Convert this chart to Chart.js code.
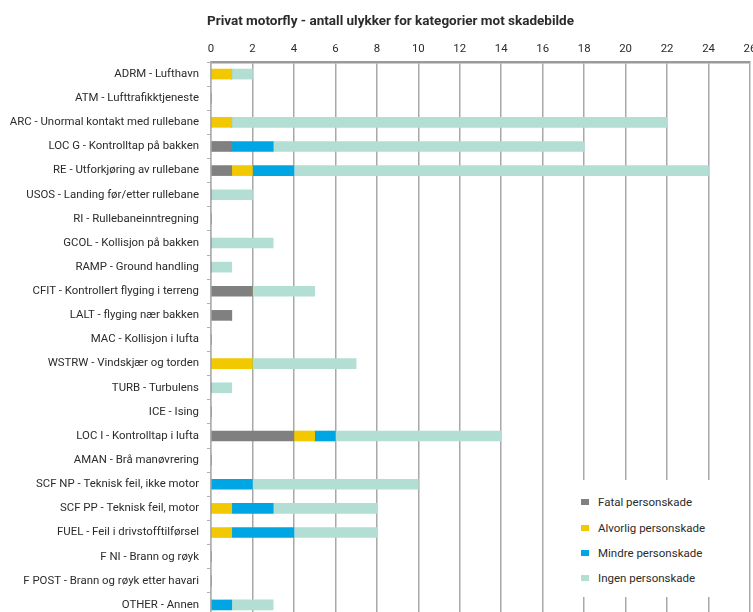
<!DOCTYPE html>
<html lang="no">
<head>
<meta charset="utf-8">
<script src="https://cdn.jsdelivr.net/npm/chart.js@4/dist/chart.umd.min.js"></script>
<style>
  html, body { margin: 0; padding: 0; background: #fff; overflow: hidden; }
  #wrap { position: relative; width: 753px; height: 620px; }
  #title {
    position: absolute; left: 207px; top: 12px;
    font: bold 13.5px Roboto, sans-serif; color: #2b2b2b;
    white-space: nowrap;
  }
  #legend {
    position: absolute; left: 548px; top: 480px; width: 198px; height: 117px;
    background: #fff;
  }
  .item { position: absolute; left: 33px; height: 14px; font: 11.5px Roboto, sans-serif; color: #2b2b2b; white-space: nowrap; }
  .item span.box { position: absolute; left: 0; top: 4px; width: 8px; height: 6px; }
  .item span.txt { position: absolute; left: 17px; top: 0; line-height: 14px; }
</style>
</head>
<body>
<div id="wrap">
  <canvas id="c" width="753" height="620"></canvas>
  <div id="title">Privat motorfly - antall ulykker for kategorier mot skadebilde</div>
  <div id="legend"></div>
</div>
<script>
const categories = [
  'ADRM - Lufthavn',
  'ATM - Lufttrafikktjeneste',
  'ARC - Unormal kontakt med rullebane',
  'LOC G - Kontrolltap på bakken',
  'RE - Utforkjøring av rullebane',
  'USOS - Landing før/etter rullebane',
  'RI - Rullebaneinntregning',
  'GCOL - Kollisjon på bakken',
  'RAMP - Ground handling',
  'CFIT - Kontrollert flyging i terreng',
  'LALT - flyging nær bakken',
  'MAC - Kollisjon i lufta',
  'WSTRW - Vindskjær og torden',
  'TURB - Turbulens',
  'ICE - Ising',
  'LOC I - Kontrolltap i lufta',
  'AMAN - Brå manøvrering',
  'SCF NP - Teknisk feil, ikke motor',
  'SCF PP - Teknisk feil, motor',
  'FUEL - Feil i drivstofftilførsel',
  'F NI - Brann og røyk',
  'F POST - Brann og røyk etter havari',
  'OTHER - Annen'
];

const fatal    = [0, 0, 0, 1, 1, 0, 0, 0, 0, 2, 1, 0, 0, 0, 0, 4, 0, 0, 0, 0, 0, 0, 0];
const alvorlig = [1, 0, 1, 0, 1, 0, 0, 0, 0, 0, 0, 0, 2, 0, 0, 1, 0, 0, 1, 1, 0, 0, 0];
const mindre   = [0, 0, 0, 2, 2, 0, 0, 0, 0, 0, 0, 0, 0, 0, 0, 1, 0, 2, 2, 3, 0, 0, 1];
const ingen    = [1, 0, 21, 15, 20, 2, 0, 3, 1, 3, 0, 0, 5, 1, 0, 8, 0, 8, 5, 4, 0, 0, 2];

const seriesNames = ['Fatal personskade', 'Alvorlig personskade', 'Mindre personskade', 'Ingen personskade'];
const seriesColors = ['#808080', '#f2c800', '#00a5e3', '#b2ded4'];

const xMax = 26;
const xStep = 2;

const seriesValues = [fatal, alvorlig, mindre, ingen];
const datasets = seriesValues.map((vals, i) => ({
  label: seriesNames[i],
  data: vals,
  backgroundColor: seriesColors[i],
  borderWidth: 0,
  barThickness: 10
}));

const tickFont = { family: 'Roboto, sans-serif', size: 11.4 };

const chart = new Chart(document.getElementById('c'), {
  type: 'bar',
  data: { labels: categories, datasets },
  options: {
    indexAxis: 'y',
    responsive: false,
    animation: false,
    layout: { padding: { top: 30, right: 3, bottom: 3, left: 0 } },
    plugins: {
      legend: { display: false },
      title: { display: false },
      tooltip: { enabled: false }
    },
    scales: {
      x: {
        position: 'top',
        stacked: true,
        min: 0,
        max: xMax,
        ticks: { stepSize: xStep, color: '#2b2b2b', font: tickFont, padding: 6 },
        grid: { color: '#a8a8a8', lineWidth: 1.5, drawTicks: false },
        border: { color: '#9a9a9a', width: 2.5 },
        afterFit(scale) {
          scale.height = 32;
          scale.paddingLeft = 0;
          scale.paddingRight = 0;
        }
      },
      y: {
        stacked: true,
        ticks: { color: '#2b2b2b', font: tickFont, padding: 8, autoSkip: false },
        grid: { drawOnChartArea: false, drawTicks: true, tickLength: 4, color: '#b0b0b0', offset: true },
        border: { color: '#b0b0b0', width: 1.5 },
        afterFit(scale) {
          scale.width = 211;
          scale.paddingTop = 0;
          scale.paddingBottom = 0;
        }
      }
    }
  }
});

// legend built from the chart's datasets
const legendEl = document.getElementById('legend');
const rowTops = [15, 41, 66, 91];
chart.data.datasets.forEach((ds, i) => {
  const item = document.createElement('div');
  item.className = 'item';
  item.style.top = rowTops[i] + 'px';
  const box = document.createElement('span');
  box.className = 'box';
  box.style.background = ds.backgroundColor;
  const txt = document.createElement('span');
  txt.className = 'txt';
  txt.textContent = ds.label;
  item.appendChild(box);
  item.appendChild(txt);
  legendEl.appendChild(item);
});
</script>
</body>
</html>
